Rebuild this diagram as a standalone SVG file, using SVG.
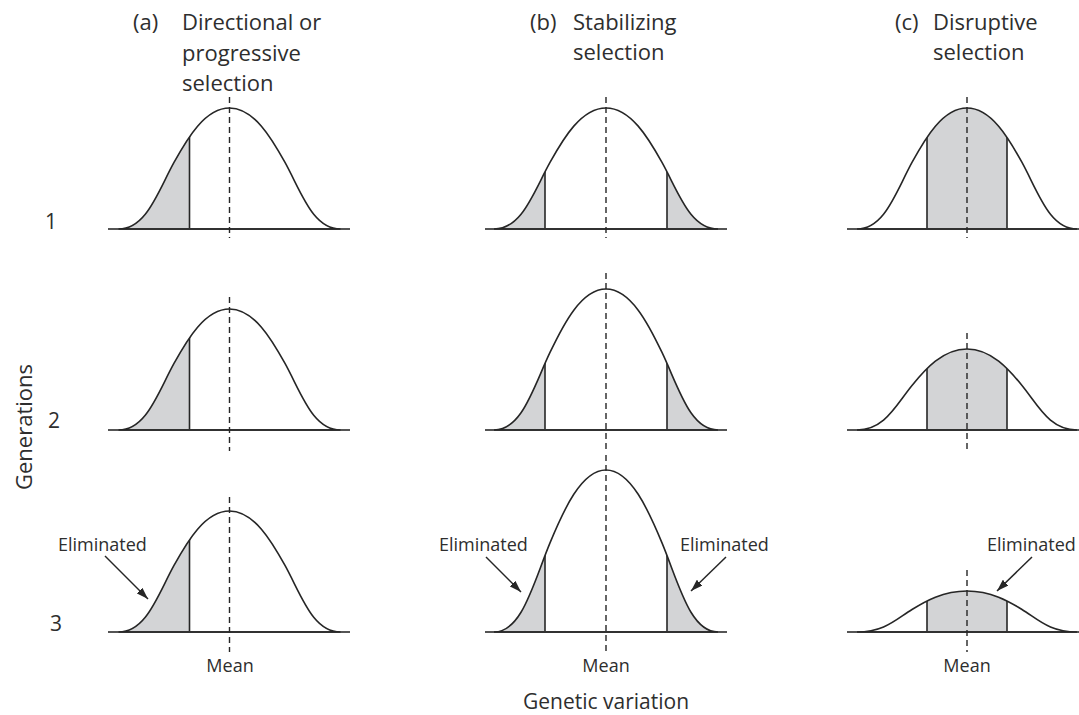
<svg xmlns="http://www.w3.org/2000/svg" xmlns:xlink="http://www.w3.org/1999/xlink" width="1079" height="715" viewBox="0 0 1079 715">
<style>
text{font-family:"Open Sans","DejaVu Sans",sans-serif;fill:#2e2e2e}
.title{font-size:22px}
.num{font-size:21px;text-anchor:middle}
.small{font-size:18px}
.mid{text-anchor:middle}
.curve{fill:none;stroke:#262626;stroke-width:1.6}
.shade{fill:#d3d4d6}
.cut{stroke:#262626;stroke-width:1.6}
.axis{stroke:#555;stroke-width:2}
.mean{stroke:#262626;stroke-width:1.4;stroke-dasharray:6 4}
.arrow{stroke:#262626;stroke-width:1.5;fill:none}
</style>
<defs>
<path id="bell" vector-effect="non-scaling-stroke" d="M-100,0 C-75,0 -65,-30 -50,-55 C-38,-75 -22,-100 0,-100 C22,-100 38,-75 50,-55 C65,-30 75,0 100,0 Z"/>
<marker id="ah" viewBox="0 0 12 8" refX="12" refY="4" markerWidth="12" markerHeight="8" markerUnits="userSpaceOnUse" orient="auto"><path d="M0,0 L12,4 L0,8 Z" fill="#262626"/></marker>
<clipPath id="c-a1"><use xlink:href="#bell" transform="translate(229.5,229) scale(1.11,1.21)"/></clipPath>
<clipPath id="c-a2"><use xlink:href="#bell" transform="translate(229.5,430) scale(1.11,1.21)"/></clipPath>
<clipPath id="c-a3"><use xlink:href="#bell" transform="translate(229.5,632) scale(1.11,1.21)"/></clipPath>
<clipPath id="c-b1"><use xlink:href="#bell" transform="translate(606,229) scale(1.12,1.21)"/></clipPath>
<clipPath id="c-b2"><use xlink:href="#bell" transform="translate(606,430) scale(1.12,1.41)"/></clipPath>
<clipPath id="c-b3"><use xlink:href="#bell" transform="translate(606,632) scale(1.12,1.62)"/></clipPath>
<clipPath id="c-c1"><use xlink:href="#bell" transform="translate(967,229) scale(1.10,1.21)"/></clipPath>
<clipPath id="c-c2"><use xlink:href="#bell" transform="translate(967,430) scale(1.10,0.81)"/></clipPath>
<clipPath id="c-c3"><use xlink:href="#bell" transform="translate(967,632) scale(1.10,0.41)"/></clipPath>
</defs>
<rect width="1079" height="715" fill="#ffffff"/>

<!-- titles -->
<g id="title-a">
<text class="title" x="133" y="30">(a)</text>
<text class="title" x="182" y="30">Directional or</text>
<text class="title" x="182" y="61">progressive</text>
<text class="title" x="182" y="91">selection</text>
</g>
<g id="title-b">
<text class="title" x="530" y="30">(b)</text>
<text class="title" x="573" y="30">Stabilizing</text>
<text class="title" x="573" y="60">selection</text>
</g>
<g id="title-c">
<text class="title" x="895" y="30">(c)</text>
<text class="title" x="933" y="30">Disruptive</text>
<text class="title" x="933" y="60">selection</text>
</g>

<!-- axis labels -->
<g id="row-labels">
<text class="num" x="51" y="229">1</text>
<text class="num" x="54" y="428">2</text>
<text class="num" x="56" y="631">3</text>
<text class="title" text-anchor="middle" transform="translate(32,427) rotate(-90)">Generations</text>
</g>
<g id="x-label">
<text class="small mid" x="230" y="672">Mean</text>
<text class="small mid" x="606" y="672">Mean</text>
<text class="small mid" x="967" y="672">Mean</text>
<text class="mid" style="font-size:21px" x="606" y="709">Genetic variation</text>
</g>

<!-- column a -->
<g id="a1">
<g clip-path="url(#c-a1)"><rect class="shade" x="100" y="90" width="89.5" height="150"/><line class="cut" x1="189.5" y1="90" x2="189.5" y2="229"/></g>
<line class="axis" x1="108" y1="229" x2="350" y2="229"/>
<use xlink:href="#bell" class="curve" transform="translate(229.5,229) scale(1.11,1.21)"/>
<line class="mean" x1="229.5" y1="97" x2="229.5" y2="238"/>
</g>
<g id="a2">
<g clip-path="url(#c-a2)"><rect class="shade" x="100" y="290" width="89.5" height="150"/><line class="cut" x1="189.5" y1="290" x2="189.5" y2="430"/></g>
<line class="axis" x1="108" y1="430" x2="350" y2="430"/>
<use xlink:href="#bell" class="curve" transform="translate(229.5,430) scale(1.11,1.21)"/>
<line class="mean" x1="229.5" y1="297" x2="229.5" y2="451"/>
</g>
<g id="a3">
<g clip-path="url(#c-a3)"><rect class="shade" x="100" y="490" width="89.5" height="150"/><line class="cut" x1="189.5" y1="490" x2="189.5" y2="632"/></g>
<line class="axis" x1="108" y1="632" x2="350" y2="632"/>
<use xlink:href="#bell" class="curve" transform="translate(229.5,632) scale(1.11,1.21)"/>
<line class="mean" x1="229.5" y1="497" x2="229.5" y2="652"/>
<text class="small" x="58" y="551">Eliminated</text>
</g>

<!-- column b -->
<g id="b1">
<g clip-path="url(#c-b1)"><rect class="shade" x="480" y="90" width="65" height="150"/><rect class="shade" x="667" y="90" width="65" height="150"/><line class="cut" x1="545" y1="90" x2="545" y2="229"/><line class="cut" x1="667" y1="90" x2="667" y2="229"/></g>
<line class="axis" x1="485" y1="229" x2="727" y2="229"/>
<use xlink:href="#bell" class="curve" transform="translate(606,229) scale(1.12,1.21)"/>
<line class="mean" x1="606" y1="97" x2="606" y2="238"/>
</g>
<g id="b2">
<g clip-path="url(#c-b2)"><rect class="shade" x="480" y="270" width="65" height="170"/><rect class="shade" x="667" y="270" width="65" height="170"/><line class="cut" x1="545" y1="270" x2="545" y2="430"/><line class="cut" x1="667" y1="270" x2="667" y2="430"/></g>
<line class="axis" x1="485" y1="430" x2="727" y2="430"/>
<use xlink:href="#bell" class="curve" transform="translate(606,430) scale(1.12,1.41)"/>
<line class="mean" x1="606" y1="273" x2="606" y2="452"/>
</g>
<g id="b3">
<g clip-path="url(#c-b3)"><rect class="shade" x="480" y="450" width="65" height="190"/><rect class="shade" x="667" y="450" width="65" height="190"/><line class="cut" x1="545" y1="450" x2="545" y2="632"/><line class="cut" x1="667" y1="450" x2="667" y2="632"/></g>
<line class="axis" x1="485" y1="632" x2="727" y2="632"/>
<use xlink:href="#bell" class="curve" transform="translate(606,632) scale(1.12,1.62)"/>
<line class="mean" x1="606" y1="455" x2="606" y2="652"/>
<text class="small" x="439" y="551">Eliminated</text>
<text class="small" x="680" y="551">Eliminated</text>
</g>

<!-- column c -->
<g id="c1">
<g clip-path="url(#c-c1)"><rect class="shade" x="927" y="90" width="80" height="150"/><line class="cut" x1="927" y1="90" x2="927" y2="229"/><line class="cut" x1="1007" y1="90" x2="1007" y2="229"/></g>
<line class="axis" x1="847" y1="229" x2="1079" y2="229"/>
<use xlink:href="#bell" class="curve" transform="translate(967,229) scale(1.10,1.21)"/>
<line class="mean" x1="967" y1="97" x2="967" y2="238"/>
</g>
<g id="c2">
<g clip-path="url(#c-c2)"><rect class="shade" x="927" y="330" width="80" height="110"/><line class="cut" x1="927" y1="330" x2="927" y2="430"/><line class="cut" x1="1007" y1="330" x2="1007" y2="430"/></g>
<line class="axis" x1="847" y1="430" x2="1079" y2="430"/>
<use xlink:href="#bell" class="curve" transform="translate(967,430) scale(1.10,0.81)"/>
<line class="mean" x1="967" y1="333" x2="967" y2="451"/>
</g>
<g id="c3">
<g clip-path="url(#c-c3)"><rect class="shade" x="927" y="570" width="80" height="70"/><line class="cut" x1="927" y1="570" x2="927" y2="632"/><line class="cut" x1="1007" y1="570" x2="1007" y2="632"/></g>
<line class="axis" x1="847" y1="632" x2="1079" y2="632"/>
<use xlink:href="#bell" class="curve" transform="translate(967,632) scale(1.10,0.41)"/>
<line class="mean" x1="967" y1="570" x2="967" y2="652"/>
<text class="small" x="987" y="551">Eliminated</text>
</g>

<!-- connectors -->
<g id="connectors">
<line class="arrow" x1="105" y1="556" x2="148" y2="599" marker-end="url(#ah)"/>
<line class="arrow" x1="486" y1="557" x2="521" y2="592" marker-end="url(#ah)"/>
<line class="arrow" x1="726" y1="557" x2="691" y2="591" marker-end="url(#ah)"/>
<line class="arrow" x1="1032" y1="557" x2="997" y2="591" marker-end="url(#ah)"/>
</g>
</svg>
